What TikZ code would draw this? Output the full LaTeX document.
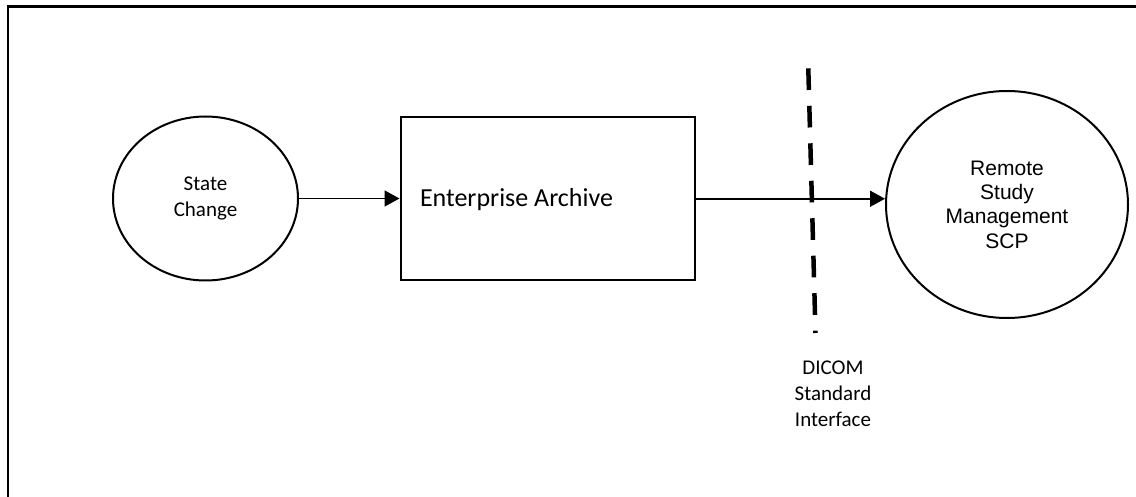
\documentclass[tikz,border=0pt]{standalone}
\usepackage{fontspec}
\newfontfamily\carlito{Carlito}
\newfontfamily\arialf{Liberation Sans}
\usetikzlibrary{shapes.geometric,arrows.meta}
\begin{document}
\begin{tikzpicture}[x=1pt,y=-1pt,
  bubble/.style={draw,ellipse,line width=2pt,inner sep=0pt,align=center},
  procbox/.style={draw,rectangle,line width=2pt,inner xsep=19.5pt,inner ysep=0pt,
    text width=255.5pt,align=left,minimum height=163.5pt,text height=22pt,text depth=5.5pt},
  flow/.style={line width=1.6pt,-{Triangle[length=15pt,width=16pt]}},
  frameline/.style={line width=2.5pt},
  boundary/.style={line width=4.5pt,dash pattern=on 21.7pt off 15.8pt},
  caption/.style={inner sep=0pt,align=center}]
\useasboundingbox (0,0) rectangle (1136,497);
% frame
\coordinate (fbl) at (8,500);
\coordinate (ftl) at (8,6.5);
\coordinate (ftr) at (1140,6.5);
\draw[frameline] (fbl) -- (ftl) -- (ftr);
% nodes
\node[bubble,minimum width=185pt,minimum height=164pt,
  font=\carlito\fontsize{21}{25.3}\selectfont] (sc) at (205.5,198.5) {State\\Change};
\node[procbox,font=\carlito\fontsize{26}{31}\selectfont] (ea) at (547.75,198.75) {\spaceskip=0pt Enterprise Archive};
\node[bubble,minimum width=242pt,minimum height=227pt,
  font=\arialf\fontsize{21}{24.4}\selectfont] (rs) at (1007,204.5) {Remote\\Study\\Management\\SCP};
\node[caption,font=\carlito\fontsize{21}{26}\selectfont] (di) at (833,394.25) {DICOM\\Standard\\Interface};
% dashed boundary
\coordinate (bt) at (808.3,68.3);
\coordinate (bb) at (815.5,333);
\draw[boundary] (bt) -- (bb);
% connectors
\draw[flow] (sc.east) -- (sc.east -| ea.west);
\draw[flow] (ea.east) -- (ea.east -| rs.west);
\end{tikzpicture}
\end{document}
